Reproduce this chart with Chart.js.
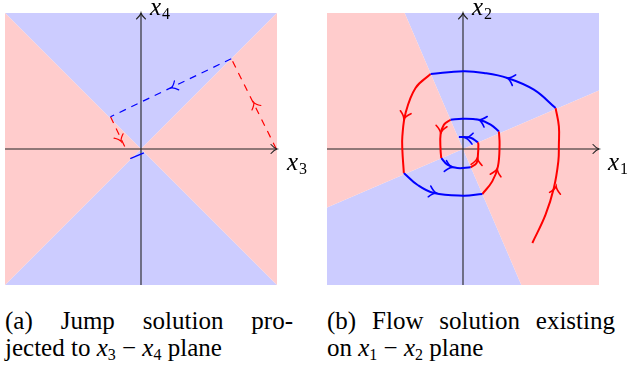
<!DOCTYPE html>
<html>
<head>
<meta charset="utf-8">
<script src="https://cdn.jsdelivr.net/npm/chart.js@4.4.1/dist/chart.umd.min.js"></script>
<style>
body { margin: 0; width: 633px; height: 365px; background: #fff; position: relative; overflow: hidden; color: #000; }
.panel { position: absolute; top: 0; }
</style>
</head>
<body>
<div class="panel" style="left:0"><canvas id="jumpChart" width="320" height="300"></canvas></div>
<div class="panel" style="left:320px"><canvas id="flowChart" width="313" height="300"></canvas></div>

<div style="font-family:'Liberation Serif';font-size:25px;font-style:italic;position:absolute;left:287px;top:148px">x</div>
<div style="font-family:'Liberation Serif';font-size:16px;position:absolute;left:299px;top:160px">3</div>
<div style="font-family:'Liberation Serif';font-size:25px;font-style:italic;position:absolute;left:150px;top:-7px">x</div>
<div style="font-family:'Liberation Serif';font-size:16px;position:absolute;left:162px;top:5px">4</div>
<div style="font-family:'Liberation Serif';font-size:25px;font-style:italic;position:absolute;left:608px;top:148px">x</div>
<div style="font-family:'Liberation Serif';font-size:16px;position:absolute;left:620px;top:160px">1</div>
<div style="font-family:'Liberation Serif';font-size:25px;font-style:italic;position:absolute;left:472px;top:-7px">x</div>
<div style="font-family:'Liberation Serif';font-size:16px;position:absolute;left:484px;top:5px">2</div>

<div style="font-family:'Liberation Serif';font-size:25px;position:absolute;left:5px;top:307px;width:288px;text-align:justify;text-align-last:justify">(a) Jump solution pro-</div>
<div style="font-family:'Liberation Serif';font-size:25px;position:absolute;left:5px;top:334px">jected to <i style="font-family:'Liberation Serif'">x</i><span style="font-family:'Liberation Serif';font-size:16px;position:relative;top:4px">3</span> &minus; <i style="font-family:'Liberation Serif'">x</i><span style="font-family:'Liberation Serif';font-size:16px;position:relative;top:4px">4</span> plane</div>
<div style="font-family:'Liberation Serif';font-size:25px;position:absolute;left:327px;top:307px;width:288px;text-align:justify;text-align-last:justify">(b) Flow solution existing</div>
<div style="font-family:'Liberation Serif';font-size:25px;position:absolute;left:327px;top:334px">on <i style="font-family:'Liberation Serif'">x</i><span style="font-family:'Liberation Serif';font-size:16px;position:relative;top:4px">1</span> &minus; <i style="font-family:'Liberation Serif'">x</i><span style="font-family:'Liberation Serif';font-size:16px;position:relative;top:4px">2</span> plane</div>

<script>
// axes of both planes
const axisH = [[-1, 0], [1, 0]];
const axisV = [[0, -1], [0, 1]];

// (a) x3-x4 plane: switching regions
const pinkA1 = [[-1, 1], [0, 0], [-1, -1]];
const pinkA2 = [[1, 1], [0, 0], [1, -1]];
const blueA1 = [[-1, 1], [1, 1], [0, 0]];
const blueA2 = [[-1, -1], [1, -1], [0, 0]];
// jump solution pieces
const jumpRedRight = [[0.995, 0], [0.664, 0.664]];
const jumpBlue = [[0.664, 0.664], [-0.224, 0.237]];
const jumpRedLeft = [[-0.224, 0.237], [-0.109, -0.005]];
const jumpBlueEnd = [[-0.079, -0.071], [0.021, -0.029]];
// arrow marks: x, y, dx, dy
const arrowsRedA = [[0.829, 0.343, -0.33, 0.66], [-0.146, 0.056, 0.115, -0.242]];
const arrowsBlueA = [[0.222, 0.449, -0.887, -0.427]];

// (b) x1-x2 plane: switching regions
const pinkB1 = [[-1, 1], [-0.429, 1], [0, 0], [-1, -0.43]];
const pinkB2 = [[1, 0.43], [0, 0], [0.429, -1], [1, -1]];
const blueB1 = [[-0.429, 1], [1, 1], [1, 0.43], [0, 0]];
const blueB2 = [[-1, -0.43], [0, 0], [0.429, -1], [-1, -1]];
// flow solution arcs
const flowR1 = [[0.510, -0.691], [0.607, -0.483], [0.668, -0.287], [0.701, -0.091], [0.705, 0.032], [0.705, 0.166], [0.681, 0.301]];
const flowB1 = [[0.681, 0.301], [0.521, 0.436], [0.326, 0.522], [0.154, 0.559], [0.002, 0.571], [-0.238, 0.551]];
const flowR2 = [[-0.238, 0.551], [-0.349, 0.449], [-0.422, 0.265], [-0.446, 0.093], [-0.446, -0.005], [-0.435, -0.176]];
const flowB2 = [[-0.435, -0.176], [-0.336, -0.263], [-0.214, -0.324], [0.002, -0.343], [0.142, -0.331]];
const flowR3 = [[0.142, -0.331], [0.215, -0.238], [0.257, -0.128], [0.269, 0.032], [0.264, 0.129]];
const flowB3 = [[0.264, 0.129], [0.203, 0.179], [0.117, 0.215], [-0.005, 0.223], [-0.091, 0.215]];
const flowR4 = [[-0.091, 0.215], [-0.140, 0.179], [-0.165, 0.105], [-0.165, -0.005], [-0.160, -0.066]];
const flowB4 = [[-0.160, -0.066], [-0.115, -0.115], [-0.042, -0.140], [0.056, -0.135]];
const flowR5 = [[0.056, -0.135], [0.100, -0.103], [0.110, -0.042], [0.113, 0.032], [0.110, 0.049]];
const flowB5 = [[0.110, 0.049], [0.056, 0.083], [-0.030, 0.088]];
const arrowsRedB = [[0.685, -0.275, 0.033, 0.196], [-0.435, 0.221, -0.1, -0.36], [0.252, -0.145, 0.05, 0.2],
                    [-0.165, 0.118, -0.025, -0.18], [0.105, -0.066, 0.01, 0.1]];
const arrowsBlueB = [[0.326, 0.522, -0.37, 0.12], [-0.196, -0.324, 0.25, -0.06], [0.117, 0.215, -0.2, 0.06],
                     [-0.079, -0.135, 0.1, -0.02], [0.019, 0.081, -0.1, 0.01]];

const PINK = 'rgb(255,204,204)';
const LAV = 'rgb(204,204,255)';
const RED = 'rgb(255,0,0)';
const BLUE = 'rgb(0,0,255)';

const pts = arr => arr.map(p => ({x: p[0], y: p[1]}));

function region(arr, color) {
  return { data: pts(arr), showLine: true, fill: 'shape', backgroundColor: color,
           borderWidth: 0, pointRadius: 0, order: 10 };
}
function axisLine(arr) {
  return { data: pts(arr), showLine: true, borderColor: '#222', borderWidth: 1.1,
           pointRadius: 0, order: 5 };
}
function path(arr, color, width, dash, smooth) {
  return { data: pts(arr), showLine: true, borderColor: color, borderWidth: width,
           borderDash: dash || [], tension: smooth ? 0.4 : 0, pointRadius: 0, order: 1 };
}

// draws the small open arrow heads (TikZ style) along curves and at axis ends
function drawHead(ctx, px, py, ang, len, half, color, width) {
  ctx.save();
  ctx.translate(px, py);
  ctx.rotate(ang);
  ctx.strokeStyle = color;
  ctx.lineWidth = width;
  ctx.lineCap = 'round';
  ctx.beginPath();
  ctx.moveTo(-len, -half);
  ctx.quadraticCurveTo(-len * 0.45, -half * 0.15, 0, 0);
  ctx.quadraticCurveTo(-len * 0.45, half * 0.15, -len, half);
  ctx.stroke();
  ctx.restore();
}

const arrowPlugin = {
  id: 'heads',
  afterDatasetsDraw(chart, args, opts) {
    const {ctx} = chart;
    const sx = chart.scales.x, sy = chart.scales.y;
    const toPx = (x, y) => [sx.getPixelForValue(x), sy.getPixelForValue(y)];
    // axis tips
    [[axisH[1], axisH[0]], [axisV[1], axisV[0]]].forEach(([tip, from]) => {
      const [tx, ty] = toPx(tip[0], tip[1]);
      const [fx, fy] = toPx(from[0], from[1]);
      drawHead(ctx, tx, ty, Math.atan2(ty - fy, tx - fx), 6, 4.5, '#222', 1.1);
    });
    (opts.marks || []).forEach(m => {
      m.list.forEach(a => {
        const [px, py] = toPx(a[0], a[1]);
        const [qx, qy] = toPx(a[0] + a[2] * 0.1, a[1] + a[3] * 0.1);
        drawHead(ctx, px, py, Math.atan2(qy - py, qx - px), m.len, m.half, m.color, m.width);
      });
    });
  }
};

function baseOptions(pad, marks) {
  return {
    responsive: false,
    animation: false,
    layout: { padding: pad },
    plugins: { legend: { display: false }, tooltip: { enabled: false }, heads: { marks: marks } },
    scales: {
      x: { type: 'linear', min: -1, max: 1, display: false },
      y: { type: 'linear', min: -1, max: 1, display: false }
    }
  };
}

new Chart(document.getElementById('jumpChart'), {
  type: 'scatter',
  data: {
    datasets: [
      region(pinkA1, PINK), region(pinkA2, PINK), region(blueA1, LAV), region(blueA2, LAV),
      axisLine(axisH), axisLine(axisV),
      path(jumpRedRight, RED, 1.2, [7, 6]),
      path(jumpBlue, BLUE, 1.2, [7, 6]),
      path(jumpRedLeft, RED, 1.2, [7, 6]),
      path(jumpBlueEnd, BLUE, 1.3)
    ]
  },
  options: baseOptions({left: 5, top: 13, right: 43, bottom: 15}, [
    {list: arrowsRedA, color: RED, width: 1.2, len: 6, half: 5},
    {list: arrowsBlueA, color: BLUE, width: 1.2, len: 6, half: 5}
  ]),
  plugins: [arrowPlugin]
});

new Chart(document.getElementById('flowChart'), {
  type: 'scatter',
  data: {
    datasets: [
      region(pinkB1, PINK), region(pinkB2, PINK), region(blueB1, LAV), region(blueB2, LAV),
      axisLine(axisH), axisLine(axisV),
      path(flowR1, RED, 2, null, true), path(flowB1, BLUE, 2, null, true),
      path(flowR2, RED, 2, null, true), path(flowB2, BLUE, 2, null, true),
      path(flowR3, RED, 2, null, true), path(flowB3, BLUE, 2, null, true),
      path(flowR4, RED, 2, null, true), path(flowB4, BLUE, 2, null, true),
      path(flowR5, RED, 2, null, true), path(flowB5, BLUE, 2, null, true)
    ]
  },
  options: baseOptions({left: 7, top: 13, right: 34, bottom: 15}, [
    {list: arrowsRedB, color: RED, width: 1.6, len: 7, half: 5.5},
    {list: arrowsBlueB, color: BLUE, width: 1.6, len: 7, half: 5.5}
  ]),
  plugins: [arrowPlugin]
});
</script>
</body>
</html>
